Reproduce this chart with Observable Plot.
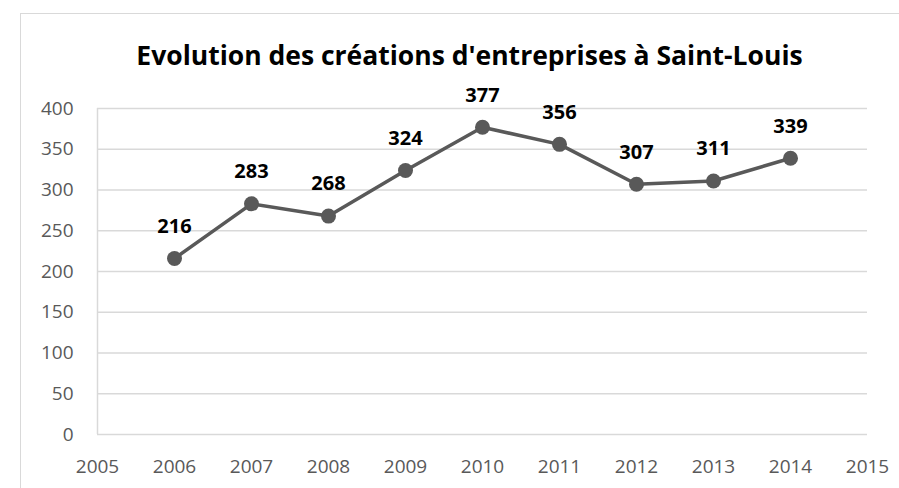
<!DOCTYPE html>
<html>
<head>
<meta charset="utf-8">
<script src="https://cdn.jsdelivr.net/npm/d3@7"></script>
<script src="https://cdn.jsdelivr.net/npm/@observablehq/plot@0.6"></script>
<style>
  html, body { margin: 0; padding: 0; background: #fff; }
  #wrap { position: relative; width: 899px; height: 488px; overflow: hidden; }
  #border { position: absolute; left: 20px; top: 13px; width: 1000px; height: 1000px;
            border-left: 1.5px solid #d9d9d9; border-top: 1.5px solid #d9d9d9; box-sizing: border-box; pointer-events: none; }
  #title { position: absolute; left: 40px; width: 859px; top: 37px; line-height: 36px; text-align: center; white-space: nowrap;
           font-family: "Open Sans", sans-serif; font-weight: bold; font-size: 26.5px; color: #000; }
  #chart { position: absolute; left: 0; top: 0; }
</style>
</head>
<body>
<div id="wrap">
  <div id="chart"></div>
  <div id="border"></div>
  <div id="title">Evolution des créations d'entreprises à Saint-Louis</div>
</div>
<script>
const years = [2006, 2007, 2008, 2009, 2010, 2011, 2012, 2013, 2014];
const creations = [216, 283, 268, 324, 377, 356, 307, 311, 339];
const xTicks = [2005, 2006, 2007, 2008, 2009, 2010, 2011, 2012, 2013, 2014, 2015];
const yTicks = [0, 50, 100, 150, 200, 250, 300, 350, 400];

const data = years.map((y, i) => ({year: y, value: creations[i]}));

const chart = Plot.plot({
  width: 899,
  height: 488,
  marginLeft: 97,
  marginRight: 32,
  marginTop: 108,
  marginBottom: 54,
  style: {fontFamily: "'Open Sans', sans-serif", background: "transparent"},
  x: {domain: [2005, 2015], ticks: xTicks, tickFormat: d => String(d), label: null},
  y: {domain: [0, 400], ticks: yTicks, label: null},
  marks: [
    Plot.gridY(yTicks, {stroke: "#d9d9d9", strokeOpacity: 1, strokeWidth: 1.5}),
    Plot.ruleX([2005], {stroke: "#d9d9d9", strokeWidth: 1.5}),
    Plot.axisY(yTicks, {tickSize: 0, tickPadding: 24, fontSize: 19, fill: "#595959", label: null}),
    Plot.axisX(xTicks, {tickSize: 0, tickPadding: 25, fontSize: 19, fill: "#595959", tickFormat: d => String(d), label: null}),
    Plot.line(data, {x: "year", y: "value", stroke: "#595959", strokeWidth: 3.5}),
    Plot.dot(data, {x: "year", y: "value", r: 7.5, fill: "#595959", stroke: "none"}),
    Plot.text(data, {x: "year", y: "value", text: d => String(d.value), dy: -32,
      fontSize: 20, fontWeight: "bold", fill: "#000"})
  ]
});
document.getElementById("chart").appendChild(chart);
</script>
</body>
</html>
